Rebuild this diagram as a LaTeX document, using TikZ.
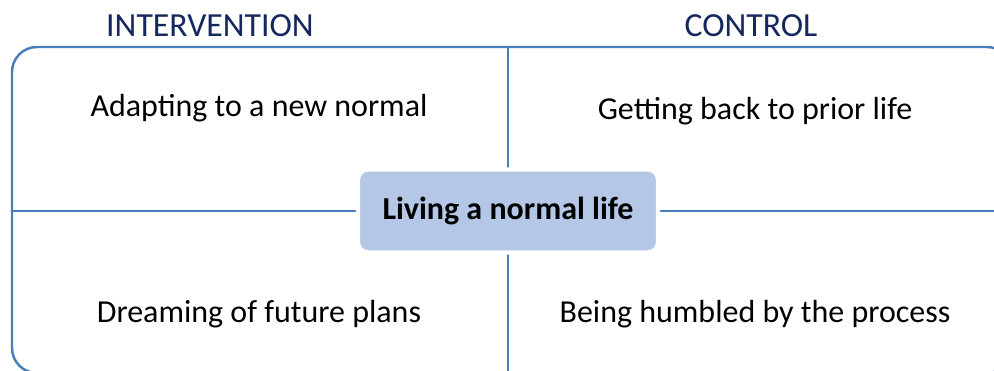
\documentclass[tikz,border=0pt]{standalone}
\usepackage{fontspec}
\setmainfont{Carlito}
\usepackage{xcolor}
\definecolor{qdline}{HTML}{4A7EBB}
\definecolor{qdfill}{HTML}{B4C7E7}
\definecolor{qdhead}{HTML}{14275E}
\usepackage{tikz}
\usetikzlibrary{positioning, calc}

\begin{document}
\begin{tikzpicture}[
  frame/.style={rectangle, rounded corners=0.5cm,
    draw=qdline, line width=1.4pt,
    minimum width=20cm, minimum height=6.52cm},
  hub/.style={rectangle, rounded corners=0.2cm,
    fill=qdfill, draw=white, line width=2.5pt,
    minimum width=6.0cm, minimum height=1.66cm,
    font=\fontsize{18.2}{22}\selectfont\bfseries},
  quad/.style={font=\fontsize{18.2}{22}\selectfont, text=black},
  head/.style={font=\fontsize{19.2}{23}\selectfont, text=qdhead},
  divider/.style={draw=qdline, line width=1.3pt}
]
  \useasboundingbox (0,0) rectangle (19.88,7.42);
  \clip (0,0) rectangle (19.88,7.42);

  \node[frame] (frame) at (10.24,3.22) {};

  % cross lines
  \coordinate (mid) at (10.16,3.2);
  \draw[divider] (mid |- frame.north) -- (mid |- frame.south);
  \draw[divider] (mid -| frame.west) -- (mid -| frame.east);

  \node[hub] (hub) at (mid) {Living a normal life};

  \node[head] (interv) at (4.2,6.9) {INTERVENTION};
  \node[head] (control) at (15.02,6.9) {CONTROL};

  \node[quad] (adapt) at (5.18,5.26) {Adapting to a new normal};
  \node[quad] (prior) at (15.1,5.2) {Getting back to prior life};
  \node[quad] (dream) at (5.18,1.14) {Dreaming of future plans};
  \node[quad] (humble) at (15.1,1.14) {Being humbled by the process};
\end{tikzpicture}
\end{document}
